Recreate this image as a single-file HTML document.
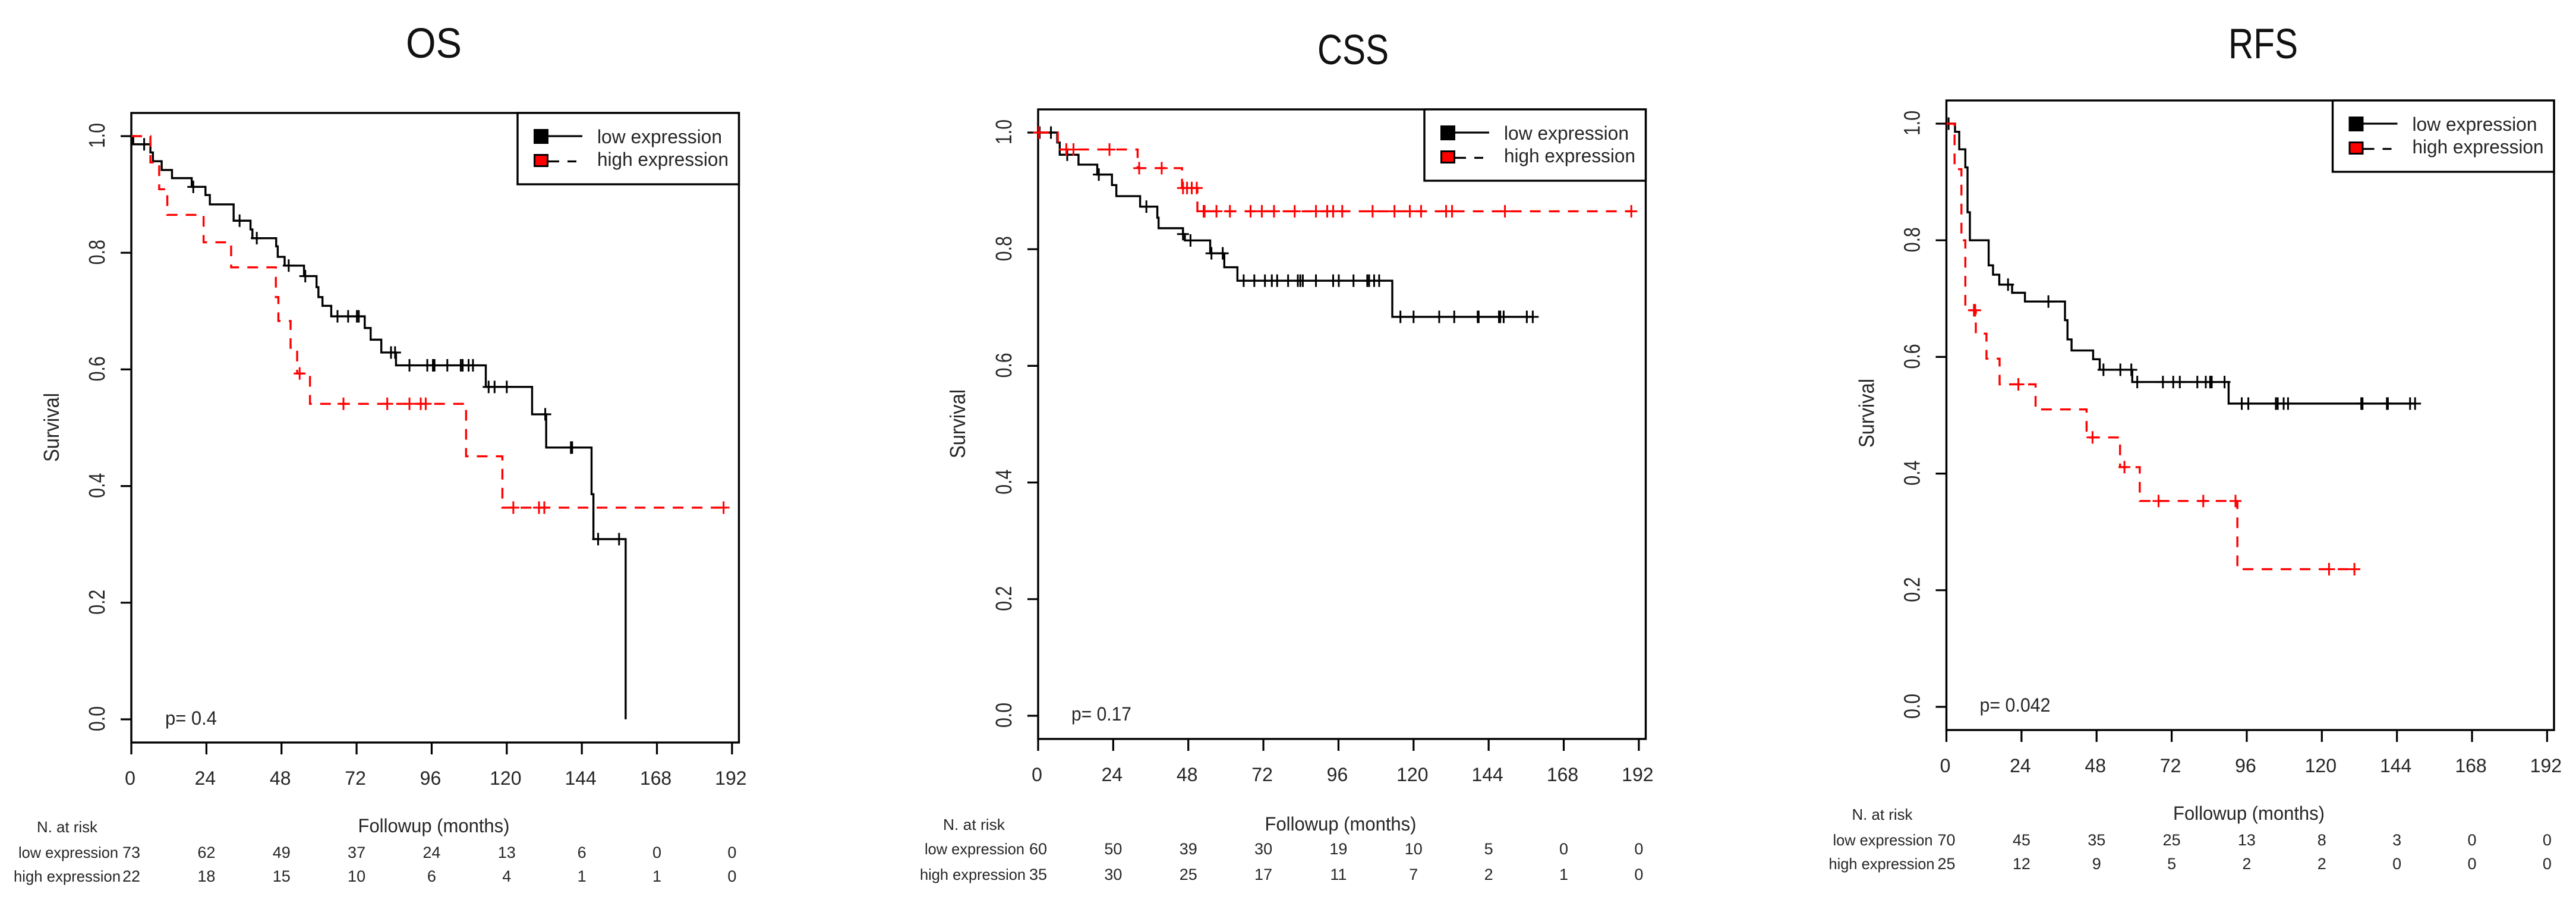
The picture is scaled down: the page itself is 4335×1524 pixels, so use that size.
<!DOCTYPE html>
<html lang="en">
<head>
<meta charset="utf-8">
<title>Kaplan-Meier survival curves: OS, CSS, RFS</title>
<style>
html,body{margin:0;padding:0;background:#fff;}
svg{display:block;}
text{font-family:"Liberation Sans",sans-serif;fill:#262626;}
.r{font-size:26px;}
.n{font-size:32px;}
.t{font-size:71px;fill:#111;}
</style>
</head>
<body>
<svg id="figure" xmlns="http://www.w3.org/2000/svg" width="4335" height="1524" viewBox="0 0 4335 1524">
<rect width="4335" height="1524" fill="#fff"/>

<g id="panel-os" transform="translate(221,1210)">
  <text class="t" x="509" y="-1113" text-anchor="middle" textLength="94" lengthAdjust="spacingAndGlyphs">OS</text>
  <text class="n" style="font-size:36px" text-anchor="middle" textLength="116" lengthAdjust="spacingAndGlyphs" transform="translate(-122,-491) rotate(-90)">Survival</text>
  <text class="n" x="509" y="190" text-anchor="middle" textLength="255" lengthAdjust="spacingAndGlyphs">Followup (months)</text>
  <text class="n" x="57" y="9" textLength="87" lengthAdjust="spacingAndGlyphs">p= 0.4</text>
  <text class="r" x="-159" y="190" textLength="102" lengthAdjust="spacingAndGlyphs">N. at risk</text>
  <text class="r" x="-190" y="233" textLength="168" lengthAdjust="spacingAndGlyphs">low expression</text>
  <text class="r" x="-198" y="273" textLength="180" lengthAdjust="spacingAndGlyphs">high expression</text>
</g>

<g id="panel-css" transform="translate(1747,1204)">
  <text class="t" x="530" y="-1096" text-anchor="middle" textLength="120" lengthAdjust="spacingAndGlyphs">CSS</text>
  <text class="n" style="font-size:36px" text-anchor="middle" textLength="116" lengthAdjust="spacingAndGlyphs" transform="translate(-123,-491) rotate(-90)">Survival</text>
  <text class="n" x="509" y="193" text-anchor="middle" textLength="255" lengthAdjust="spacingAndGlyphs">Followup (months)</text>
  <text class="n" x="56" y="8" textLength="101" lengthAdjust="spacingAndGlyphs">p= 0.17</text>
  <text class="r" x="-160" y="192" textLength="104" lengthAdjust="spacingAndGlyphs">N. at risk</text>
  <text class="r" x="-191" y="233" textLength="168" lengthAdjust="spacingAndGlyphs">low expression</text>
  <text class="r" x="-199" y="276" textLength="178" lengthAdjust="spacingAndGlyphs">high expression</text>
</g>

<g id="panel-rfs" transform="translate(3275.5,1189)">
  <text class="t" x="533" y="-1091" text-anchor="middle" textLength="117" lengthAdjust="spacingAndGlyphs">RFS</text>
  <text class="n" style="font-size:36px" text-anchor="middle" textLength="116" lengthAdjust="spacingAndGlyphs" transform="translate(-122,-494) rotate(-90)">Survival</text>
  <text class="n" x="509" y="190" text-anchor="middle" textLength="255" lengthAdjust="spacingAndGlyphs">Followup (months)</text>
  <text class="n" x="56" y="8" textLength="119" lengthAdjust="spacingAndGlyphs">p= 0.042</text>
  <text class="r" x="-159" y="190" textLength="102" lengthAdjust="spacingAndGlyphs">N. at risk</text>
  <text class="r" x="-191" y="233" textLength="168" lengthAdjust="spacingAndGlyphs">low expression</text>
  <text class="r" x="-198" y="273" textLength="178" lengthAdjust="spacingAndGlyphs">high expression</text>
</g>
</svg>

<script>
// Shared axis values
var xTicks = [0, 24, 48, 72, 96, 120, 144, 168, 192];
var xTickLabels = ['0', '24', '48', '72', '96', '120', '144', '168', '192'];
var yTicks = [0, 0.2, 0.4, 0.6, 0.8, 1];
var yTickLabels = ['0.0', '0.2', '0.4', '0.6', '0.8', '1.0'];
var legendLabels = ['low expression', 'high expression'];

// OS
var osLowTimes = [0.6, 6.1, 6.9, 9.7, 13, 19.3, 23.7, 25.1, 32.7, 38.1, 38.7, 46.3, 46.8, 49, 55.2, 59.2, 59.8, 61.1, 63.9, 74.6, 76.5, 79.9, 84.6, 113.3, 128.1, 132.6, 147.1, 147.7, 158];
var osLowSurvival = [0.986, 0.972, 0.957, 0.942, 0.928, 0.913, 0.899, 0.883, 0.855, 0.840, 0.825, 0.811, 0.793, 0.778, 0.760, 0.741, 0.724, 0.709, 0.691, 0.671, 0.651, 0.629, 0.607, 0.570, 0.523, 0.466, 0.386, 0.309, 0];
var osLowCensored = [4.1, 19.8, 34.6, 40.1, 50.3, 55.6, 65.9, 69.3, 72.1, 72.7, 83, 84.3, 88.9, 94.6, 96.4, 96.9, 101, 105.3, 105.9, 107.8, 109.2, 114.2, 116.1, 120, 132.3, 140.5, 140.9, 149.2, 155.9];
var osHighTimes = [6.1, 8.9, 11.5, 23.1, 31.9, 46.2, 47, 50.9, 53, 57.1, 107, 118.6];
var osHighSurvival = [0.955, 0.909, 0.865, 0.818, 0.775, 0.724, 0.683, 0.637, 0.593, 0.541, 0.451, 0.363];
var osHighCensored = [53.8, 67.8, 81.8, 88.9, 92.5, 94.1, 122.1, 130.3, 132, 189.3];
var osLowAtRisk = [73, 62, 49, 37, 24, 13, 6, 0, 0];
var osHighAtRisk = [22, 18, 15, 10, 6, 4, 1, 1, 0];

// CSS
var cssLowTimes = [6.1, 6.9, 12.9, 18.9, 23.6, 25, 32.6, 38.1, 38.5, 46.3, 46.9, 55, 59.5, 63.7, 113.2];
var cssLowSurvival = [0.983, 0.962, 0.945, 0.928, 0.910, 0.891, 0.873, 0.854, 0.836, 0.826, 0.815, 0.793, 0.769, 0.746, 0.684];
var cssLowCensored = [0.5, 4.1, 9.3, 19.4, 34.6, 46.3, 48.7, 55.4, 59, 65.7, 69.1, 72.5, 74.7, 76.4, 79.9, 83, 83.8, 84.6, 88.8, 94.3, 96.1, 100.8, 105.2, 105.8, 107.4, 109, 115.8, 120, 128.2, 133, 140.5, 140.8, 147.3, 147.7, 148.8, 156.2, 158.1];
var cssHighTimes = [6.3, 31.8, 46, 50.9];
var cssHighSurvival = [0.971, 0.939, 0.905, 0.865];
var cssHighCensored = [0.3, 9, 11.3, 22.8, 32.3, 39.5, 46.3, 47.6, 49.1, 50.7, 52.9, 53.2, 57, 61.3, 67.9, 71.5, 75.4, 82, 88.8, 92.4, 94.3, 97.2, 106.9, 113.9, 118.8, 122.4, 130.4, 132.3, 149.2, 189.6];
var cssLowAtRisk = [60, 50, 39, 30, 19, 10, 5, 0, 0];
var cssHighAtRisk = [35, 30, 25, 17, 11, 7, 2, 1, 0];

// RFS
var rfsLowTimes = [2.75, 4.1, 6.05, 6.75, 7.5, 13.5, 14.9, 16.9, 21, 25.1, 37.9, 38.7, 40, 46.9, 49, 59.4, 90.2];
var rfsLowSurvival = [0.986, 0.956, 0.925, 0.848, 0.80, 0.757, 0.741, 0.724, 0.710, 0.695, 0.663, 0.630, 0.611, 0.596, 0.578, 0.557, 0.520];
var rfsLowCensored = [0.7, 19.7, 32.6, 50.2, 55.6, 59.1, 61, 69.2, 72.5, 74.6, 80.2, 82.9, 84.3, 84.8, 88.9, 94.4, 96.5, 105.3, 105.9, 107.8, 109.2, 132.6, 133, 140.8, 141.1, 148.2, 149.8];
var rfsHighTimes = [2.6, 4.8, 6.05, 9.4, 12.8, 17, 28.5, 44.8, 55.5, 61.8, 93];
var rfsHighSurvival = [0.922, 0.80, 0.680, 0.640, 0.597, 0.553, 0.510, 0.462, 0.411, 0.353, 0.236];
var rfsHighCensored = [8.8, 9.2, 23, 46.7, 56.9, 67.8, 82.1, 92.4, 122.3, 130.4];
var rfsLowAtRisk = [70, 45, 35, 25, 13, 8, 3, 0, 0];
var rfsHighAtRisk = [25, 12, 9, 5, 2, 2, 0, 0, 0];

var SVGNS = 'http://www.w3.org/2000/svg';
function xScale(months) { return months * 5.265; }
function yScale(survival) { return -survival * 981; }

function make(tag, parent, attrs) {
  var el = document.createElementNS(SVGNS, tag);
  for (var k in attrs) { el.setAttribute(k, attrs[k]); }
  parent.appendChild(el);
  return el;
}

function survivalAt(times, survival, t) {
  var s = 1;
  for (var i = 0; i < times.length; i++) {
    if (times[i] <= t) { s = survival[i]; }
  }
  return s;
}

function drawFrame(g) {
  var el = make('rect', g, {x: 0, y: -1020, width: 1022.5, height: 1059, fill: 'none', stroke: '#000', 'stroke-width': 3.4});
  
  
  xTicks.forEach(function (v, i) {
    var tick = make('line', g, {x1: xScale(v), x2: xScale(v), y1: 39, y2: 59, stroke: '#000', 'stroke-width': 3.2});
    
    
    var label = make('text', g, {x: xScale(v) - 2, y: 110, 'text-anchor': 'middle', 'font-size': 32});
    
    
    label.textContent = xTickLabels[i];
  });
  yTicks.forEach(function (v, i) {
    var tick = make('line', g, {x1: -18, x2: 0, y1: yScale(v), y2: yScale(v), stroke: '#000', 'stroke-width': 3.2});
    
    
    var label = make('text', g, {'text-anchor': 'middle', 'font-size': 38, textLength: 42, lengthAdjust: 'spacingAndGlyphs', transform: 'translate(-45,' + (yScale(v) - 1) + ') rotate(-90)'});
    
    
    label.textContent = yTickLabels[i];
  });
}

function drawLegend(g) {
  var box = make('rect', g, {x: 650, y: -1020, width: 372.5, height: 120, fill: '#fff', stroke: '#000', 'stroke-width': 3.4});
  
  

  var lowKey = make('rect', g, {x: 677, y: -993, width: 25, height: 25, fill: '#000'});
  
  
  var lowLine = make('line', g, {x1: 702, x2: 759, y1: -981, y2: -981, stroke: '#000', 'stroke-width': 3.2});
  
  
  var lowText = make('text', g, {x: 784, y: -969, 'font-size': 32, textLength: 210, lengthAdjust: 'spacingAndGlyphs'});
  
  
  lowText.textContent = legendLabels[0];

  var highKey = make('rect', g, {x: 678.5, y: -949.5, width: 22, height: 19, fill: '#f00', stroke: '#000', 'stroke-width': 3});
  
  
  var highLine = make('line', g, {x1: 702, x2: 749, y1: -938.5, y2: -938.5, stroke: '#000', 'stroke-width': 3.2, 'stroke-dasharray': '18 14 15 100'});
  
  
  var highText = make('text', g, {x: 784, y: -931, 'font-size': 32, textLength: 221, lengthAdjust: 'spacingAndGlyphs'});
  
  
  highText.textContent = legendLabels[1];
}

function drawCurve(g, prefix, times, survival, censored, color, dashed) {
  var lastT = Math.max(times[times.length - 1], censored[censored.length - 1]);
  var d = 'M' + xScale(0) + ' ' + yScale(1);
  times.forEach(function (t, i) {
    d += 'H' + xScale(t) + 'V' + yScale(survival[i]);
  });
  d += 'H' + xScale(lastT);

  var attrs = {d: d, fill: 'none', stroke: color, 'stroke-width': 3.4, 'stroke-linejoin': 'miter'};
  if (dashed) {
    attrs['stroke-dasharray'] = '18 14';
  }
  var curve = make('path', g, attrs);
  
  

  censored.forEach(function (t) {
    var s = survivalAt(times, survival, t);
    var mark = make('path', g, {
      d: 'M' + (xScale(t) - 10) + ' ' + yScale(s) + 'h20M' + xScale(t) + ' ' + (yScale(s) - 10.5) + 'v21',
      fill: 'none', stroke: color, 'stroke-width': 3
    });
    
    
  });
}

function drawRisk(g, rowName, values, baseline) {
  values.forEach(function (v, i) {
    var cell = make('text', g, {x: xScale(xTicks[i]), y: baseline, 'text-anchor': 'middle', 'font-size': 27});
    
    
    cell.textContent = String(v);
  });
}

var osPanel = document.getElementById('panel-os');
drawFrame(osPanel);
drawCurve(osPanel, 'os-low', osLowTimes, osLowSurvival, osLowCensored, '#000', false);
drawCurve(osPanel, 'os-high', osHighTimes, osHighSurvival, osHighCensored, '#f00', true);
drawLegend(osPanel);
drawRisk(osPanel, 'os-low', osLowAtRisk, 233);
drawRisk(osPanel, 'os-high', osHighAtRisk, 273);

var cssPanel = document.getElementById('panel-css');
drawFrame(cssPanel);
drawCurve(cssPanel, 'css-low', cssLowTimes, cssLowSurvival, cssLowCensored, '#000', false);
drawCurve(cssPanel, 'css-high', cssHighTimes, cssHighSurvival, cssHighCensored, '#f00', true);
drawLegend(cssPanel);
drawRisk(cssPanel, 'css-low', cssLowAtRisk, 233);
drawRisk(cssPanel, 'css-high', cssHighAtRisk, 276);

var rfsPanel = document.getElementById('panel-rfs');
drawFrame(rfsPanel);
drawCurve(rfsPanel, 'rfs-low', rfsLowTimes, rfsLowSurvival, rfsLowCensored, '#000', false);
drawCurve(rfsPanel, 'rfs-high', rfsHighTimes, rfsHighSurvival, rfsHighCensored, '#f00', true);
drawLegend(rfsPanel);
drawRisk(rfsPanel, 'rfs-low', rfsLowAtRisk, 233);
drawRisk(rfsPanel, 'rfs-high', rfsHighAtRisk, 273);
</script>
</body>
</html>
